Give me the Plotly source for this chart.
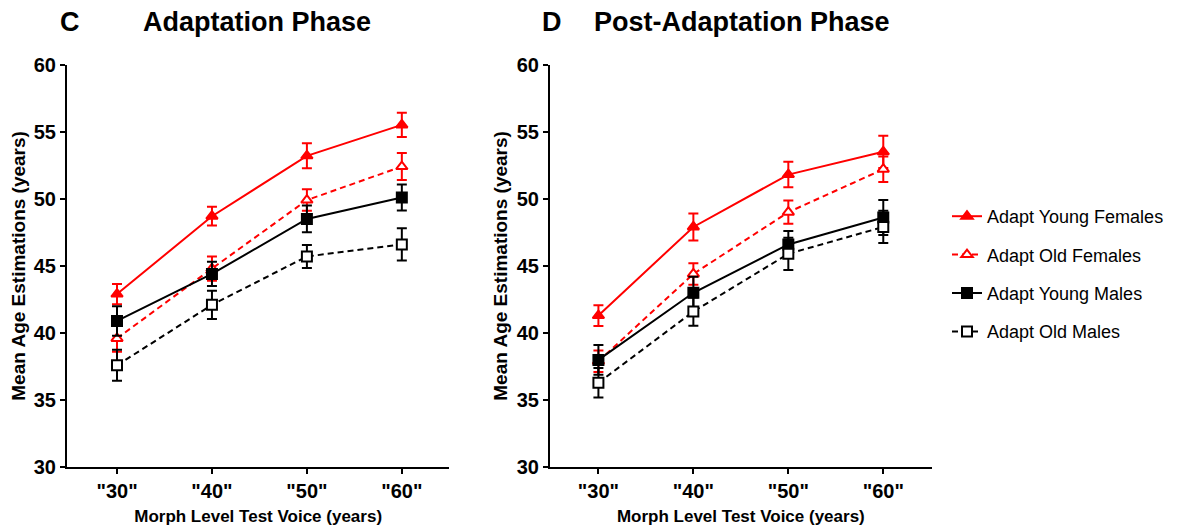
import plotly.graph_objects as go

categories = ['"30"', '"40"', '"50"', '"60"']
series_names = ["Adapt Young Females", "Adapt Old Females", "Adapt Young Males", "Adapt Old Males"]

# Panel C: Adaptation phase
adapt_young_females = [42.9, 48.7, 53.2, 55.5]
adapt_young_females_err = [0.75, 0.7, 0.93, 0.9]
adapt_old_females = [39.6, 44.8, 49.9, 52.4]
adapt_old_females_err = [1.0, 0.9, 0.8, 1.0]
adapt_young_males = [40.9, 44.4, 48.5, 50.1]
adapt_young_males_err = [1.1, 0.9, 1.0, 0.97]
adapt_old_males = [37.6, 42.1, 45.7, 46.6]
adapt_old_males_err = [1.15, 1.05, 0.85, 1.2]

# Panel D: Post-adaptation phase
post_young_females = [41.3, 47.9, 51.8, 53.5]
post_young_females_err = [0.77, 1.0, 0.95, 1.2]
post_old_females = [37.9, 44.4, 49.0, 52.2]
post_old_females_err = [0.8, 0.8, 0.87, 0.95]
post_young_males = [38.0, 43.0, 46.6, 48.6]
post_young_males_err = [1.1, 1.2, 1.0, 1.3]
post_old_males = [36.3, 41.6, 45.9, 47.9]
post_old_males_err = [1.1, 1.05, 1.2, 1.2]

y_ticks = [30, 35, 40, 45, 50, 55, 60]

FONT = "Arial, Liberation Sans, sans-serif"
RED = "#ff0000"
BLACK = "#000000"
W, H, OFF = 1184, 528, 8  # page body margin offset


def px(x):
    return (x - OFF) / W


def py(y):
    return 1 - (y - OFF) / H


styles = [
    dict(color=RED, dash="solid", symbol="triangle-up", open=False),
    dict(color=RED, dash="6px,4px", symbol="triangle-up", open=True),
    dict(color=BLACK, dash="solid", symbol="square", open=False),
    dict(color=BLACK, dash="6px,4px", symbol="square", open=True),
]

panels = [
    ([adapt_young_females, adapt_old_females, adapt_young_males, adapt_old_males],
     [adapt_young_females_err, adapt_old_females_err, adapt_young_males_err, adapt_old_males_err]),
    ([post_young_females, post_old_females, post_young_males, post_old_males],
     [post_young_females_err, post_old_females_err, post_young_males_err, post_old_males_err]),
]

x_idx = list(range(len(categories)))

fig = go.Figure()
for p, (vals, errs) in enumerate(panels):
    xa = "x" if p == 0 else "x2"
    ya = "y" if p == 0 else "y2"
    for i in range(4):
        st = styles[i]
        fig.add_trace(go.Scatter(
            x=x_idx, y=vals[i], xaxis=xa, yaxis=ya,
            mode="lines+markers",
            name=series_names[i],
            legendgroup=series_names[i],
            showlegend=(p == 0),
            line=dict(color=st["color"], width=2, dash=st["dash"]),
            marker=dict(symbol=st["symbol"], size=10,
                        color="white" if st["open"] else st["color"],
                        line=dict(color=st["color"], width=2)),
            error_y=dict(type="data", array=errs[i], visible=True, color=st["color"], thickness=2, width=5),
        ))

axis_common = dict(
    showgrid=False, zeroline=False, showline=True, linecolor="black", linewidth=2,
    ticks="outside", ticklen=5, tickwidth=2, tickcolor="black", automargin=False,
    tickfont=dict(family=FONT, size=20, color="black"),
)
xtitle = dict(text="<b>Morph Level Test Voice (years)</b>", font=dict(size=17, family=FONT), standoff=9)
ytitle = dict(text="<b>Mean Age Estimations (years)</b>", font=dict(size=19, family=FONT), standoff=4)

fig.update_layout(
    width=W, height=H,
    margin=dict(l=0, r=0, t=0, b=0, autoexpand=False),
    plot_bgcolor="white", paper_bgcolor="white",
    font=dict(family=FONT, color="black"),
    xaxis=dict(domain=[px(67), px(449.3)], range=[-0.527, 3.50], tickvals=x_idx,
               ticktext=["<b>%s</b>" % c for c in categories], title=xtitle, **axis_common),
    yaxis=dict(domain=[py(467.3), py(64.5)], range=[30, 60], tickvals=y_ticks,
               ticktext=["<b>%d</b>" % t for t in y_ticks], title=ytitle, **axis_common),
    xaxis2=dict(domain=[px(550), px(931.7)], range=[-0.51, 3.51], tickvals=x_idx, anchor="y2",
                ticktext=["<b>%s</b>" % c for c in categories], title=xtitle, **axis_common),
    yaxis2=dict(domain=[py(467.3), py(64.5)], range=[30, 60], tickvals=y_ticks, anchor="x2",
                ticktext=["<b>%d</b>" % t for t in y_ticks], title=ytitle, **axis_common),
    legend=dict(x=px(947), y=py(274), xanchor="left", yanchor="middle",
                font=dict(family=FONT, size=18, color="black"),
                tracegroupgap=12, itemwidth=30, bgcolor="rgba(0,0,0,0)"),
    showlegend=True,
)

annotations = [
    dict(text="<b>C</b>", x=70, y=22),
    dict(text="<b>Adaptation Phase</b>", x=257, y=22),
    dict(text="<b>D</b>", x=552, y=22),
    dict(text="<b>Post-Adaptation Phase</b>", x=742, y=22),
]
for a in annotations:
    fig.add_annotation(text=a["text"], x=px(a["x"]), y=py(a["y"]), xref="paper", yref="paper",
                       showarrow=False, xanchor="center", yanchor="middle",
                       font=dict(family=FONT, size=27, color="black"))

fig.write_html("out.html")
